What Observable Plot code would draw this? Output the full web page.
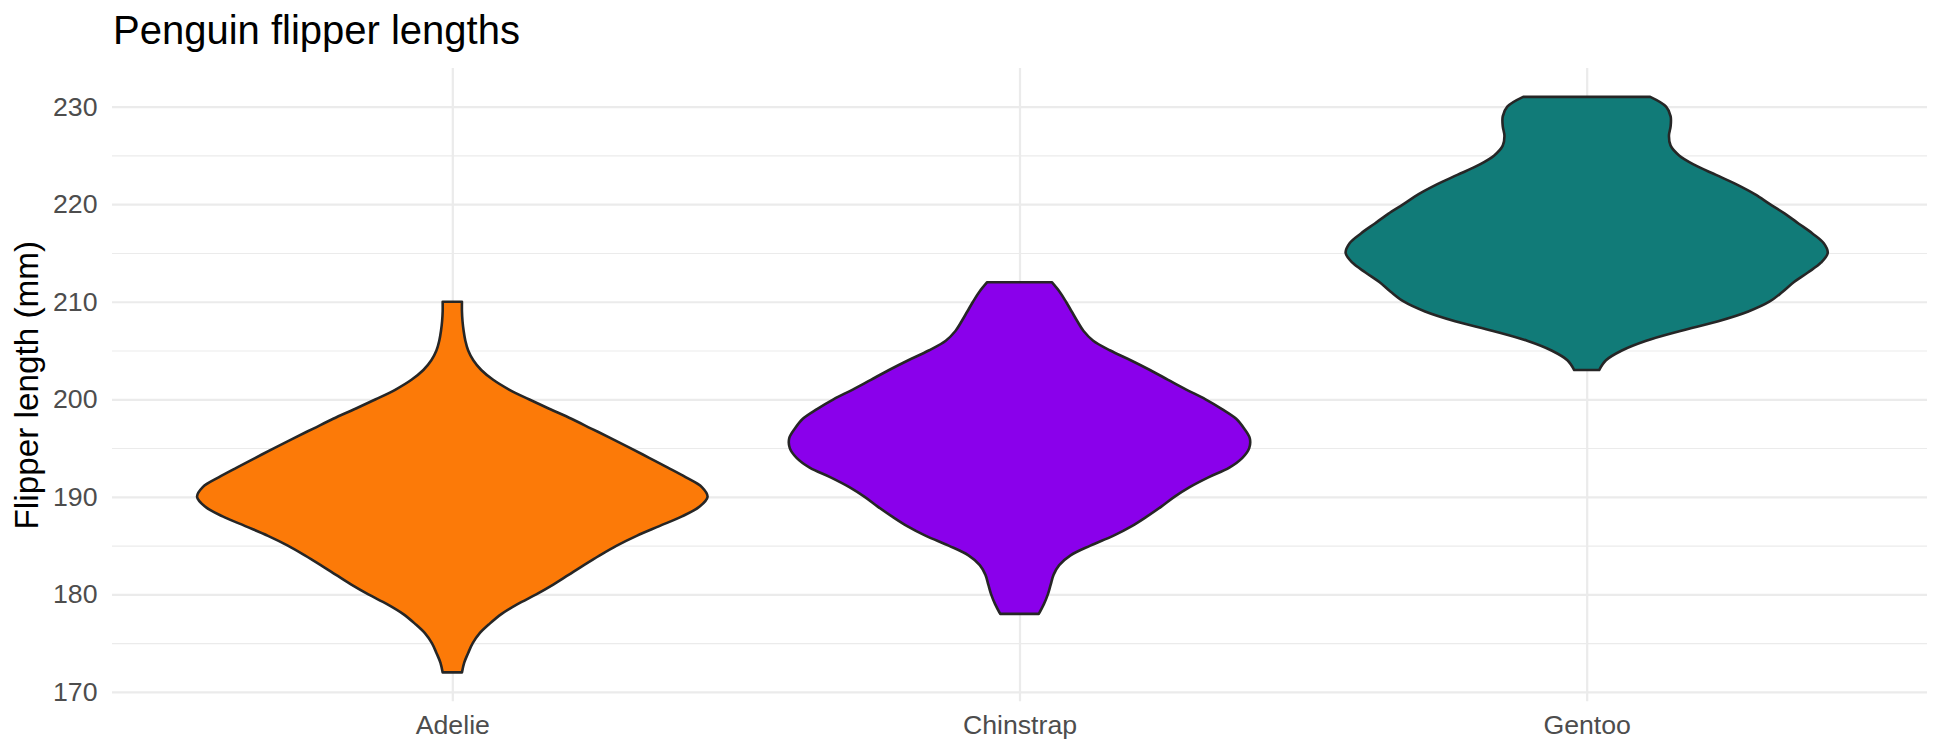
<!DOCTYPE html>
<html>
<head>
<meta charset="utf-8">
<script src="https://cdn.jsdelivr.net/npm/d3@7"></script>
<script src="https://cdn.jsdelivr.net/npm/@observablehq/plot@0.6"></script>
<style>
  body { margin: 0; background: #ffffff; }
  #wrap { width: 1944px; height: 756px; position: relative; font-family: "Liberation Sans", Arial, sans-serif; }
  #title { box-sizing: border-box; height: 60px; padding-top: 9.5px; padding-left: 113px; font-size: 40px; line-height: 40px; color: #000; white-space: nowrap; }
</style>
</head>
<body>
<div id="wrap">
  <div id="title">Penguin flipper lengths</div>
  <div id="chart"></div>
</div>
<script>
// Categories and colours
const species = ["Adelie", "Chinstrap", "Gentoo"];
const colors = ["#FC7A08", "#8A00EB", "#117B78"];

// Violin outlines: flipper length (mm) and half-width (in category units)
const adelieY = [172, 173, 174, 175, 176, 177, 178, 179, 180, 181, 182, 183, 184, 185, 186, 187, 188, 189, 190, 191,
                 192, 193, 194, 195, 196, 197, 198, 199, 200, 201, 202, 203, 204, 205, 206, 207, 208, 209, 210];
const adelieW = [0.017, 0.021, 0.028, 0.036, 0.048, 0.066, 0.087, 0.115, 0.148, 0.178, 0.205, 0.232, 0.26, 0.29, 0.325, 0.365, 0.405, 0.436, 0.45, 0.44,
                 0.412, 0.38, 0.347, 0.314, 0.28, 0.245, 0.21, 0.172, 0.135, 0.1, 0.072, 0.051, 0.037, 0.028, 0.023, 0.02, 0.018, 0.017, 0.017];

const chinY = [178, 179, 180, 181, 182, 183, 184, 185, 186, 187, 188, 189, 190, 191, 192, 193, 194, 195,
               196, 197, 198, 199, 200, 201, 202, 203, 204, 205, 206, 207, 208, 209, 210, 211, 212];
const chinW = [0.034, 0.043, 0.05, 0.055, 0.06, 0.07, 0.09, 0.125, 0.165, 0.198, 0.225, 0.25, 0.273, 0.3, 0.333, 0.37, 0.393, 0.405,
               0.406, 0.396, 0.382, 0.357, 0.328, 0.294, 0.262, 0.23, 0.196, 0.16, 0.13, 0.113, 0.102, 0.092, 0.082, 0.071, 0.057];

const gentY = [203, 204, 205, 206, 207, 208, 209, 210, 211, 212, 213, 214, 215, 216, 217,
               218, 219, 220, 221, 222, 223, 224, 225, 226, 227, 228, 229, 230, 231];
const gentW = [0.022, 0.034, 0.062, 0.105, 0.165, 0.232, 0.285, 0.322, 0.345, 0.365, 0.39, 0.413, 0.425, 0.418, 0.398,
               0.374, 0.35, 0.323, 0.297, 0.265, 0.228, 0.191, 0.163, 0.148, 0.145, 0.148, 0.148, 0.14, 0.112];

// Axis ticks
const majorTicks = [170, 180, 190, 200, 210, 220, 230];
const minorTicks = [175, 185, 195, 205, 215, 225];

const series = [
  {name: "Adelie", ys: adelieY, ws: adelieW},
  {name: "Chinstrap", ys: chinY, ws: chinW},
  {name: "Gentoo", ys: gentY, ws: gentW}
];
const rows = [];
series.forEach(s => {
  const idx = species.indexOf(s.name) + 1;
  s.ys.forEach((y, i) => rows.push({species: s.name, idx, y, hw: s.ws[i]}));
});

const chart = Plot.plot({
  width: 1944,
  height: 696,
  marginLeft: 112,
  marginRight: 17,
  marginTop: 8.1,
  marginBottom: 54.8,
  style: {fontFamily: "Liberation Sans, Arial, sans-serif", color: "#4D4D4D", background: "#ffffff"},
  x: {domain: [0.4, 3.6], axis: null},
  y: {domain: [169.05, 233.95], axis: null},
  color: {domain: species, range: colors},
  marks: [
    Plot.ruleY(minorTicks, {stroke: "#EBEBEB", strokeWidth: 1.1}),
    Plot.ruleY(majorTicks, {stroke: "#EBEBEB", strokeWidth: 2.2}),
    Plot.ruleX([1, 2, 3], {stroke: "#EBEBEB", strokeWidth: 2.2}),
    Plot.areaX(rows, {
      y: "y",
      x1: d => d.idx - d.hw,
      x2: d => d.idx + d.hw,
      fill: "species",
      stroke: "#262626",
      strokeWidth: 2.6,
      strokeLinejoin: "round",
      curve: "catmull-rom"
    }),
    Plot.axisY({ticks: majorTicks, tickSize: 0, tickPadding: 15, fontSize: 26.7, label: null}),
    Plot.axisX({ticks: [1, 2, 3], tickFormat: i => species[i - 1], tickSize: 0, tickPadding: 13, fontSize: 26.7, label: null}),
    Plot.text(["Flipper length (mm)"], {
      text: d => d,
      frameAnchor: "left",
      dx: -85,
      rotate: -90,
      textAnchor: "middle",
      lineAnchor: "middle",
      fontSize: 33.3,
      fill: "#000000"
    })
  ]
});
document.getElementById("chart").appendChild(chart);
</script>
</body>
</html>
